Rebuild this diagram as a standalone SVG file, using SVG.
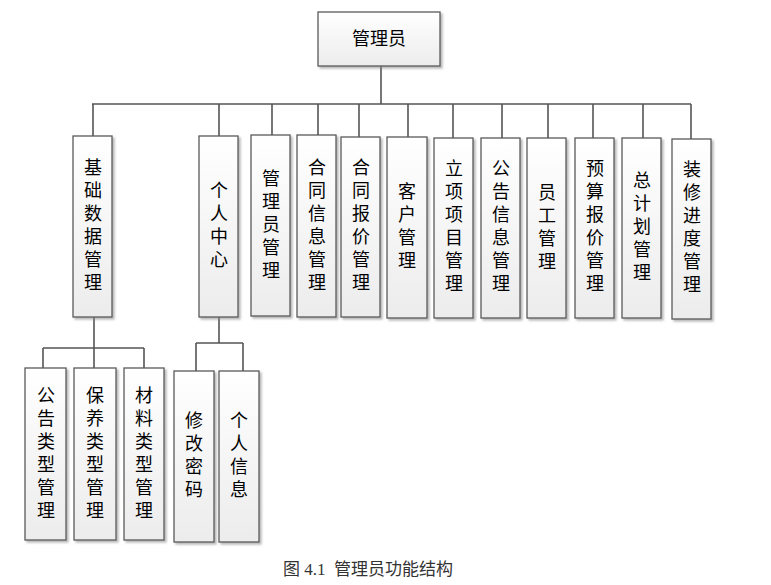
<svg xmlns="http://www.w3.org/2000/svg" width="771" height="585" viewBox="0 0 771 585">
<defs>
<linearGradient id="g" x1="0" y1="0" x2="0" y2="1">
<stop offset="0" stop-color="#ffffff"/>
<stop offset="1" stop-color="#ececec"/>
</linearGradient>
<filter id="sh" x="-20%" y="-20%" width="140%" height="140%">
<feDropShadow dx="2" dy="2" stdDeviation="1" flood-color="#888" flood-opacity="0.6"/>
</filter>
</defs>
<style>
.box{fill:url(#g);stroke:#5a5a5a;stroke-width:1.3;filter:url(#sh)}
.t{font-family:"Liberation Sans","Noto Sans CJK SC",sans-serif;font-size:18px;fill:#000;text-anchor:middle;dominant-baseline:central}
.c{fill:none;stroke:#555;stroke-width:1.6}
.cap{font-family:"Liberation Serif","Noto Sans CJK SC",serif;font-size:17px;fill:#333}
</style>
<rect width="771" height="585" fill="#fff"/>
<g id="connectors">
<path class="c" d="M381 66V104M92 104H691M93 104V136M219 104V136M272 104V135M318 104V135M359 104V137M408 104V137M453 104V138M502 104V138M548 104V138M593 104V138M643 104V138M691 104V139"/>
<path class="c" d="M94 317V348M43 348H144M43 348V368M94 348V368M144 348V368"/>
<path class="c" d="M219 317V343M196 343H243M196 343V371M243 343V371"/>
</g>
<g id="n-root"><rect class="box" x="318" y="12" width="122" height="54"/><text class="t" x="379" y="39">管理员</text></g>
<g id="n-jcsj"><rect class="box" x="73" y="136" width="39" height="181"/><text class="t" x="93" y="168"><tspan x="93">基</tspan><tspan x="93" dy="23">础</tspan><tspan x="93" dy="23">数</tspan><tspan x="93" dy="23">据</tspan><tspan x="93" dy="23">管</tspan><tspan x="93" dy="23">理</tspan></text></g>
<g id="n-grzx"><rect class="box" x="199" y="136" width="39" height="181"/><text class="t" x="219" y="191"><tspan x="219">个</tspan><tspan x="219" dy="23">人</tspan><tspan x="219" dy="23">中</tspan><tspan x="219" dy="23">心</tspan></text></g>
<g id="n-glygl"><rect class="box" x="251" y="135" width="39" height="181"/><text class="t" x="271" y="179"><tspan x="271">管</tspan><tspan x="271" dy="23">理</tspan><tspan x="271" dy="23">员</tspan><tspan x="271" dy="23">管</tspan><tspan x="271" dy="23">理</tspan></text></g>
<g id="n-htxx"><rect class="box" x="297" y="135" width="39" height="182"/><text class="t" x="317" y="168"><tspan x="317">合</tspan><tspan x="317" dy="23">同</tspan><tspan x="317" dy="23">信</tspan><tspan x="317" dy="23">息</tspan><tspan x="317" dy="23">管</tspan><tspan x="317" dy="23">理</tspan></text></g>
<g id="n-htbj"><rect class="box" x="341" y="137" width="39" height="180"/><text class="t" x="361" y="168"><tspan x="361">合</tspan><tspan x="361" dy="23">同</tspan><tspan x="361" dy="23">报</tspan><tspan x="361" dy="23">价</tspan><tspan x="361" dy="23">管</tspan><tspan x="361" dy="23">理</tspan></text></g>
<g id="n-kh"><rect class="box" x="387" y="137" width="40" height="181"/><text class="t" x="407" y="192"><tspan x="407">客</tspan><tspan x="407" dy="23">户</tspan><tspan x="407" dy="23">管</tspan><tspan x="407" dy="23">理</tspan></text></g>
<g id="n-lxxm"><rect class="box" x="434" y="138" width="39" height="180"/><text class="t" x="454" y="169"><tspan x="454">立</tspan><tspan x="454" dy="23">项</tspan><tspan x="454" dy="23">项</tspan><tspan x="454" dy="23">目</tspan><tspan x="454" dy="23">管</tspan><tspan x="454" dy="23">理</tspan></text></g>
<g id="n-ggxx"><rect class="box" x="481" y="138" width="39" height="180"/><text class="t" x="501" y="169"><tspan x="501">公</tspan><tspan x="501" dy="23">告</tspan><tspan x="501" dy="23">信</tspan><tspan x="501" dy="23">息</tspan><tspan x="501" dy="23">管</tspan><tspan x="501" dy="23">理</tspan></text></g>
<g id="n-yg"><rect class="box" x="527" y="138" width="39" height="180"/><text class="t" x="547" y="193"><tspan x="547">员</tspan><tspan x="547" dy="23">工</tspan><tspan x="547" dy="23">管</tspan><tspan x="547" dy="23">理</tspan></text></g>
<g id="n-ysbj"><rect class="box" x="575" y="138" width="39" height="180"/><text class="t" x="595" y="169"><tspan x="595">预</tspan><tspan x="595" dy="23">算</tspan><tspan x="595" dy="23">报</tspan><tspan x="595" dy="23">价</tspan><tspan x="595" dy="23">管</tspan><tspan x="595" dy="23">理</tspan></text></g>
<g id="n-zjh"><rect class="box" x="622" y="138" width="39" height="180"/><text class="t" x="642" y="181"><tspan x="642">总</tspan><tspan x="642" dy="23">计</tspan><tspan x="642" dy="23">划</tspan><tspan x="642" dy="23">管</tspan><tspan x="642" dy="23">理</tspan></text></g>
<g id="n-zxjd"><rect class="box" x="672" y="139" width="39" height="180"/><text class="t" x="692" y="170"><tspan x="692">装</tspan><tspan x="692" dy="23">修</tspan><tspan x="692" dy="23">进</tspan><tspan x="692" dy="23">度</tspan><tspan x="692" dy="23">管</tspan><tspan x="692" dy="23">理</tspan></text></g>
<g id="n-gglx"><rect class="box" x="25" y="368" width="41" height="172"/><text class="t" x="46" y="396"><tspan x="46">公</tspan><tspan x="46" dy="23">告</tspan><tspan x="46" dy="23">类</tspan><tspan x="46" dy="23">型</tspan><tspan x="46" dy="23">管</tspan><tspan x="46" dy="23">理</tspan></text></g>
<g id="n-bylx"><rect class="box" x="74" y="368" width="42" height="172"/><text class="t" x="95" y="396"><tspan x="95">保</tspan><tspan x="95" dy="23">养</tspan><tspan x="95" dy="23">类</tspan><tspan x="95" dy="23">型</tspan><tspan x="95" dy="23">管</tspan><tspan x="95" dy="23">理</tspan></text></g>
<g id="n-cllx"><rect class="box" x="124" y="368" width="40" height="172"/><text class="t" x="144" y="396"><tspan x="144">材</tspan><tspan x="144" dy="23">料</tspan><tspan x="144" dy="23">类</tspan><tspan x="144" dy="23">型</tspan><tspan x="144" dy="23">管</tspan><tspan x="144" dy="23">理</tspan></text></g>
<g id="n-xgmm"><rect class="box" x="174" y="371" width="40" height="171"/><text class="t" x="194" y="421"><tspan x="194">修</tspan><tspan x="194" dy="23">改</tspan><tspan x="194" dy="23">密</tspan><tspan x="194" dy="23">码</tspan></text></g>
<g id="n-grxx"><rect class="box" x="219" y="371" width="40" height="171"/><text class="t" x="239" y="421"><tspan x="239">个</tspan><tspan x="239" dy="23">人</tspan><tspan x="239" dy="23">信</tspan><tspan x="239" dy="23">息</tspan></text></g>
<text class="cap" x="283" y="575" xml:space="preserve">图 4.1  管理员功能结构</text>
</svg>
